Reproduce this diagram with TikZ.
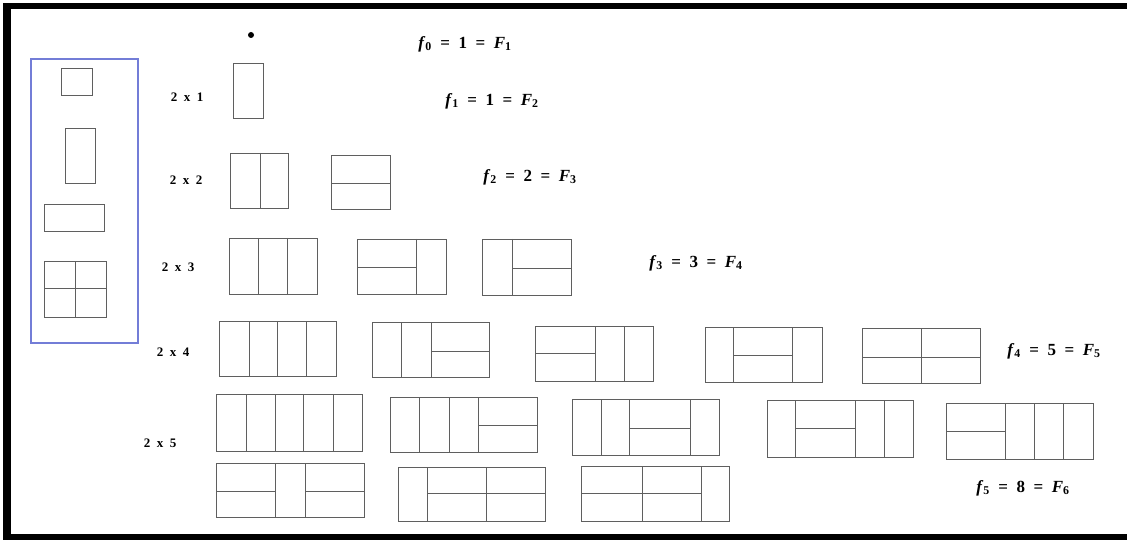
\documentclass[tikz,border=0pt]{standalone}
\usepackage{fontspec}
\setmainfont{Liberation Serif}
\definecolor{tilegray}{RGB}{95,95,95}
\definecolor{boxblue}{RGB}{115,125,215}
\newcommand{\fibeq}[3]{\textit{f}\textsubscript{#1}\enspace=\enspace#2\enspace=\enspace\textit{F}\textsubscript{#3}}
\newcommand{\dimlbl}[1]{2\enspace x\enspace #1}
\begin{document}
\begin{tikzpicture}[x=1pt,y=-1pt,
  tl/.style={draw=tilegray, line width=0.9pt},
  lbl/.style={font=\bfseries\fontsize{13}{15}\selectfont, inner sep=0pt},
  fib/.style={font=\bfseries\fontsize{17}{19}\selectfont, inner sep=0pt}]
\useasboundingbox (0,0) rectangle (1127,540);
\fill[white] (0,0) rectangle (1127,540);
% frame
\fill[black] (3,3) rectangle (1127,9);
\fill[black] (3,3) rectangle (11,540);
\fill[black] (3,534) rectangle (1127,540);
% left reference box
\draw[boxblue, line width=1.2pt] (31,59) rectangle (138,343);
\draw[tl] (61,68) rectangle (92,95);
\draw[tl] (65,128) rectangle (95,183);
\draw[tl] (44,204) rectangle (104,231);
\draw[tl] (44,261) rectangle (106,317) (75,261) -- (75,317) (44,288) -- (106,288);
% labels
\node[lbl] (l1) at (187,97) {\dimlbl{1}};
\node[lbl] (l2) at (186,180) {\dimlbl{2}};
\node[lbl] (l3) at (178,267) {\dimlbl{3}};
\node[lbl] (l4) at (173,352) {\dimlbl{4}};
\node[lbl] (l5) at (160,443) {\dimlbl{5}};
% formulas
\node[fib] (f0) at (465,44) {\fibeq{0}{1}{1}};
\node[fib] (f1) at (492,101) {\fibeq{1}{1}{2}};
\node[fib] (f2) at (530,177) {\fibeq{2}{2}{3}};
\node[fib] (f3) at (696,263) {\fibeq{3}{3}{4}};
\node[fib] (f4) at (1054,351) {\fibeq{4}{5}{5}};
\node[fib] (f5) at (1023,488) {\fibeq{5}{8}{6}};
% 2x0
\fill[black] (251,35) circle (3);
% 2x1
\draw[tl] (233,63) rectangle (263,118);
% 2x2
\draw[tl] (230,153) rectangle (288,208) (260,153) -- (260,208);
\draw[tl] (331,155) rectangle (390,209) (331,183) -- (390,183);
% 2x3
\draw[tl] (229,238) rectangle (317,294) (258,238) -- (258,294) (287,238) -- (287,294);
\draw[tl] (357,239) rectangle (446,294) (416,239) -- (416,294) (357,267) -- (416,267);
\draw[tl] (482,239) rectangle (571,295) (512,239) -- (512,295) (512,268) -- (571,268);
% 2x4
\draw[tl] (219,321) rectangle (336,376) (249,321) -- (249,376) (277,321) -- (277,376) (306,321) -- (306,376);
\draw[tl] (372,322) rectangle (489,377) (401,322) -- (401,377) (431,322) -- (431,377) (431,351) -- (489,351);
\draw[tl] (535,326) rectangle (653,381) (595,326) -- (595,381) (624,326) -- (624,381) (535,353) -- (595,353);
\draw[tl] (705,327) rectangle (822,382) (733,327) -- (733,382) (792,327) -- (792,382) (733,355) -- (792,355);
\draw[tl] (862,328) rectangle (980,383) (921,328) -- (921,383) (862,357) -- (980,357);
% 2x5 first line
\draw[tl] (216,394) rectangle (362,451) (246,394) -- (246,451) (275,394) -- (275,451) (303,394) -- (303,451) (333,394) -- (333,451);
\draw[tl] (390,397) rectangle (537,452) (419,397) -- (419,452) (449,397) -- (449,452) (478,397) -- (478,452) (478,425) -- (537,425);
\draw[tl] (572,399) rectangle (719,455) (601,399) -- (601,455) (629,399) -- (629,455) (690,399) -- (690,455) (629,428) -- (690,428);
\draw[tl] (767,400) rectangle (913,457) (795,400) -- (795,457) (855,400) -- (855,457) (884,400) -- (884,457) (795,428) -- (855,428);
\draw[tl] (946,403) rectangle (1093,459) (1005,403) -- (1005,459) (1034,403) -- (1034,459) (1063,403) -- (1063,459) (946,431) -- (1005,431);
% 2x5 second line
\draw[tl] (216,463) rectangle (364,517) (275,463) -- (275,517) (305,463) -- (305,517) (216,491) -- (275,491) (305,491) -- (364,491);
\draw[tl] (398,467) rectangle (545,521) (427,467) -- (427,521) (486,467) -- (486,521) (427,493) -- (545,493);
\draw[tl] (581,466) rectangle (729,521) (642,466) -- (642,521) (701,466) -- (701,521) (581,493) -- (701,493);
\end{tikzpicture}
\end{document}
